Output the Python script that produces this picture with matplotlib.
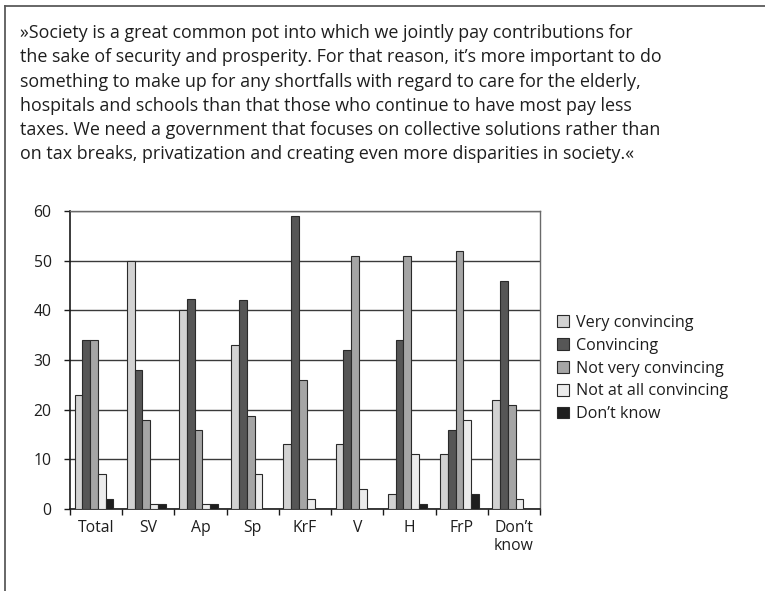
import matplotlib
matplotlib.use("Agg")
import matplotlib.pyplot as plt
from matplotlib.lines import Line2D
import numpy as np

categories = ["Total", "SV", "Ap", "Sp", "KrF", "V", "H", "FrP", "Don\u2019t\nknow"]
series_names = ["Very convincing", "Convincing", "Not very convincing",
                "Not at all convincing", "Don\u2019t know"]
very_convincing = [23, 50, 40, 33, 13, 13, 3, 11, 22]
convincing = [34, 28, 42.3, 42, 59, 32, 34, 16, 46]
not_very_convincing = [34, 18, 16, 18.7, 26, 51, 51, 52, 21]
not_at_all_convincing = [7, 1, 1, 7, 2, 4, 11, 18, 2]
dont_know = [2, 1, 1, 0, 0, 0, 1, 3, 0]
y_ticks = [0, 10, 20, 30, 40, 50, 60]

quote_lines = [
    "\u00bbSociety is a great common pot into which we jointly pay contributions for",
    "the sake of security and prosperity. For that reason, it\u2019s more important to do",
    "something to make up for any shortfalls with regard to care for the elderly,",
    "hospitals and schools than that those who continue to have most pay less",
    "taxes. We need a government that focuses on collective solutions rather than",
    "on tax breaks, privatization and creating even more disparities in society.\u00ab",
]

colors = ["#d2d2d2", "#565656", "#a5a5a5", "#ececec", "#1e1e1e"]

plt.rcParams['font.family'] = ['Open Sans', 'DejaVu Sans']

W, H = 765, 591
fig = plt.figure(figsize=(W / 100, H / 100), dpi=100)
fig.patch.set_facecolor("white")

# frame lines (left and top)
fig.add_artist(Line2D([5 / W, 5 / W], [0, 1 - 6 / H], transform=fig.transFigure,
                      color="#5a5a5a", lw=1.3))
fig.add_artist(Line2D([5 / W, 1], [1 - 6 / H, 1 - 6 / H], transform=fig.transFigure,
                      color="#5a5a5a", lw=1.3))

# quote text, one line per row
for i, line in enumerate(quote_lines):
    fig.text(20.5 / W, 1 - (38.3 + 24.2 * i) / H, line, ha="left", va="baseline",
             fontsize=12.9, color="#1e1e1e")

ax = fig.add_axes([70 / W, 1 - 509 / H, 470 / W, 298 / H])
series = [very_convincing, convincing, not_very_convincing, not_at_all_convincing, dont_know]
n = len(categories)
x = np.arange(n)
bw = 0.149
for i, (vals, col, name) in enumerate(zip(series, colors, series_names)):
    bars = ax.bar(x + (i - 2) * bw - 0.04, vals, width=bw, color=col, edgecolor="#2a2a2a",
                  linewidth=0.8, label=name, zorder=3)
    for b, v in zip(bars, vals):
        if v == 0:
            b.set_visible(False)

ax.set_xlim(-0.5, n - 0.5)
ax.set_ylim(0, 60)
ax.set_yticks(y_ticks)
ax.yaxis.grid(True, color="#3a3a3a", linewidth=1.0, zorder=0)
ax.set_axisbelow(True)
ax.set_xticks(x)
ax.set_xticklabels(categories, fontsize=11.3, color="#1e1e1e", linespacing=1.12)
ax.set_xticks(np.arange(n + 1) - 0.5, minor=True)
ax.tick_params(axis="x", which="major", length=0, pad=8)
ax.tick_params(axis="x", which="minor", length=4.3, width=1, color="#1a1a1a", direction="out")
ax.tick_params(axis="y", length=4.3, width=1, color="#1a1a1a", labelsize=11.3,
               labelcolor="#1e1e1e", pad=9)
for s in ["left", "bottom"]:
    ax.spines[s].set_color("#1a1a1a")
    ax.spines[s].set_linewidth(1.2)
for s in ["top", "right"]:
    ax.spines[s].set_color("#6a6a6a")
    ax.spines[s].set_linewidth(1.0)

leg = fig.legend(loc="upper left", bbox_to_anchor=(557 / W, 1 - 315 / H),
                 frameon=False, fontsize=11.6, handlelength=0.75, handleheight=0.75,
                 handletextpad=0.45, labelspacing=0.42, borderpad=0, borderaxespad=0)
for t in leg.get_texts():
    t.set_color("#1e1e1e")

fig.savefig("out.png", dpi=100)
